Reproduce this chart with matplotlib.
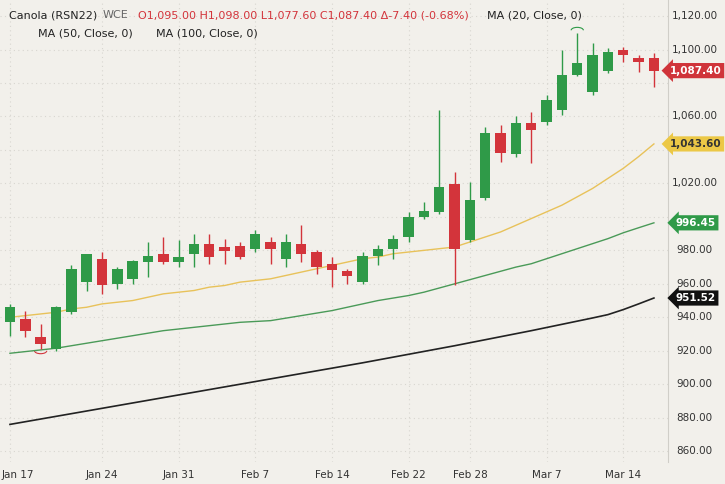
import matplotlib
matplotlib.use('Agg')
import matplotlib.pyplot as plt
import numpy as np

# OHLC per session
opens = [937, 939, 928, 921, 943, 961, 975, 960, 963, 973, 977.8, 973, 978, 983.7, 982, 982.5, 980.6, 985, 975, 984,
         979, 972, 967.6, 961, 976.6, 981, 988, 1000, 1003, 1019.6, 986, 1011, 1050, 1037.5, 1056, 1056.6, 1064, 1085,
         1074.6, 1087, 1099.7, 1095, 1095]
highs = [948, 944, 936, 947, 971, 978, 979, 970, 974, 985, 988, 986, 990, 990, 987, 985, 992, 988, 990, 995,
         980, 976, 969, 979, 983, 989, 1003, 1009, 1064, 1027, 1021, 1054, 1055, 1060, 1062.6, 1073, 1100, 1110,
         1104, 1101, 1101.5, 1097, 1098]
lows = [929, 928, 921, 920, 942, 956, 954, 957, 960, 964, 972, 970, 970, 972, 972, 975, 979, 972, 970, 973,
        966, 958, 960, 960, 971, 975, 985, 999, 1002, 959, 985, 1010, 1033, 1036, 1032, 1055, 1061, 1084,
        1073, 1086, 1092.5, 1086.5, 1077.6]
closes = [946, 932, 924, 946, 969, 978, 959, 969, 973.6, 976.6, 973, 976, 984, 976, 979.6, 976, 990, 980.6, 985, 978,
          970, 968, 964.6, 976.6, 980.6, 987, 1000, 1003.5, 1018, 981, 1010, 1050, 1038, 1056, 1052, 1070, 1085, 1092,
          1096.7, 1098.5, 1097, 1092.5, 1087.4]

ma20 = [940, 941, 942, 943, 945, 946, 948, 949, 950, 952, 954, 955, 956, 958, 959, 961, 962, 963, 965, 967,
        969, 971, 973, 975, 976, 978, 979, 980, 981, 982, 985, 988, 991, 995, 999, 1003, 1007, 1012, 1017, 1023,
        1029, 1036, 1043.6]
ma50 = [918.5, 919.5, 920.5, 921.5, 923, 924.5, 926, 927.5, 929, 930.5, 932, 933, 934, 935, 936, 937, 937.5, 938,
        939.5, 941, 942.5, 944, 946, 948, 950, 951.5, 953, 955, 957.5, 960, 962.5, 965, 967.5, 970, 972, 975, 978,
        981, 984, 987, 990.5, 993.5, 996.45]
ma100 = [876, 877.6, 879.2, 880.8, 882.4, 884, 885.6, 887.2, 888.8, 890.4, 892, 893.6, 895.2, 896.8, 898.4, 900,
         901.6, 903.2, 904.8, 906.4, 908, 909.6, 911.2, 912.8, 914.5, 916.2, 917.9, 919.6, 921.3, 923, 924.8, 926.6,
         928.4, 930.2, 932, 933.9, 935.8, 937.7, 939.6, 941.6, 944.6, 948, 951.52]

date_pos = [0, 6, 11, 16, 21, 26, 30, 35, 40]
date_labels = ['Jan 17', 'Jan 24', 'Jan 31', 'Feb 7', 'Feb 14', 'Feb 22', 'Feb 28', 'Mar 7', 'Mar 14']
price_ticks = [860, 880, 900, 920, 940, 960, 980, 1000, 1020, 1040, 1060, 1080, 1100, 1120]
last_tags = [1087.40, 1043.60, 996.45, 951.52]

BG = '#f2f0eb'
GREEN = '#2f9a48'
RED = '#d3343b'

fig = plt.figure(figsize=(7.25, 4.84), dpi=100, facecolor=BG)
ax = fig.add_axes([0, 0.045, 0.921, 0.955], facecolor=BG)

x = np.arange(len(opens))
for i in x:
    o, h, l, c = opens[i], highs[i], lows[i], closes[i]
    col = GREEN if c >= o else RED
    ax.vlines(i, l, h, color=col, lw=1, zorder=3)
    ax.bar(i, max(abs(c - o), 0.6), bottom=min(o, c), width=0.68, color=col, zorder=4)

ax.plot(x, ma20, color='#e8c25a', lw=1, zorder=2)
ax.plot(x, ma50, color='#4a9a58', lw=1, zorder=2)
ax.plot(x, ma100, color='#222222', lw=1.2, zorder=2)

ax.set_xlim(-0.65, 42.9)
ax.set_ylim(853.4, 1129.6)
ax.set_yticks(price_ticks)
ax.grid(True, color='#d8d6d0', linestyle=(0, (1, 3)), lw=0.8)
ax.set_xticks(date_pos)
ax.set_xticklabels([])
ax.tick_params(length=0)
ax.yaxis.tick_right()
ax.set_yticklabels([])
for s in ['top', 'left', 'bottom']:
    ax.spines[s].set_visible(False)
ax.spines['right'].set_color('#d0cec8')

# price labels, hidden where a last-value tag covers them
for p in price_ticks:
    if any(abs(p - t) < 8 for t in last_tags):
        continue
    ax.text(1.04, p, f'{p:,.2f}', transform=ax.get_yaxis_transform(), ha='center', va='center',
            fontsize=7.5, color='#333333')
for pos, lab in zip(date_pos, date_labels):
    ax.text(pos + (0.5 if pos == 0 else 0), 849, lab, ha='center', va='top', fontsize=7.5, color='#333333',
            clip_on=False)

# last-value tags
for val, fc, tc in zip(last_tags, ['#d0343a', '#ecc846', '#2f9a48', '#111111'],
                       ['white', '#333333', 'white', 'white']):
    ax.text(1.042, val, f'{val:,.2f}', transform=ax.get_yaxis_transform(), ha='center', va='center',
            fontsize=7.5, color=tc, fontweight='bold',
            bbox=dict(boxstyle='larrow,pad=0.25', fc=fc, ec='none'))

# low/high markers
ax.add_patch(matplotlib.patches.Arc((2, 920), 0.8, 3.5, theta1=180, theta2=360, color=RED, lw=0.8))
ax.add_patch(matplotlib.patches.Arc((37, 1111.5), 0.8, 3.5, theta1=0, theta2=180, color=GREEN, lw=0.8))

# header
fig.text(0.012, 0.968, 'Canola (RSN22)', fontsize=8, color='#222222', va='center')
fig.text(0.142, 0.968, 'WCE', fontsize=8, color='#666666', va='center')
fig.text(0.19, 0.968, 'O1,095.00 H1,098.00 L1,077.60 C1,087.40 Δ-7.40 (-0.68%)', fontsize=8, color=RED,
         va='center')
fig.text(0.672, 0.968, 'MA (20, Close, 0)', fontsize=8, color='#222222', va='center')
fig.text(0.052, 0.93, 'MA (50, Close, 0)', fontsize=8, color='#222222', va='center')
fig.text(0.215, 0.93, 'MA (100, Close, 0)', fontsize=8, color='#222222', va='center')

fig.savefig('out.png', dpi=100, facecolor=BG)
